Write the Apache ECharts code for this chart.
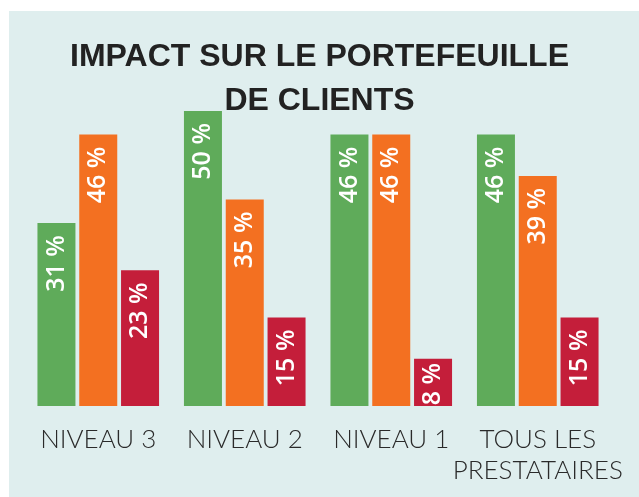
<!DOCTYPE html>
<html><head><meta charset="utf-8">
<script src="https://cdn.jsdelivr.net/npm/echarts@6/dist/echarts.min.js"></script>
<style>
html,body{margin:0;padding:0;background:#ffffff;}
#panel{position:absolute;left:9px;top:11px;width:630px;height:486px;background:#dfeeee;}
#chart{position:absolute;left:0;top:0;width:639px;height:497px;}
</style></head>
<body><div id="panel"></div><div id="chart"></div>
<script>
const categories = ['NIVEAU 3', 'NIVEAU 2', 'NIVEAU 1', 'TOUS LES\nPRESTATAIRES'];
const seriesA = [31, 50, 46, 46];
const seriesB = [46, 35, 46, 39];
const seriesC = [23, 15, 8, 15];
const titleText = 'IMPACT SUR LE PORTEFEUILLE\nDE CLIENTS';

const colors = ['#5fab5a', '#f37021', '#c41e3a'];
const chart = echarts.init(document.getElementById('chart'), null, {renderer: 'canvas'});
function labelFor(v) {
  return {
    show: true, position: 'insideTop', rotate: 90, align: 'right', verticalAlign: 'middle',
    distance: v < 10 ? 4 : 12, color: '#ffffff', fontFamily: 'Open Sans', fontWeight: 600, fontSize: 25,
    formatter: p => p.value + ' %'
  };
}
function mk(data, c) {
  return {
    type: 'bar', barWidth: 38, barGap: '10%', itemStyle: { color: c },
    data: data.map(v => ({ value: v, label: labelFor(v) }))
  };
}
chart.setOption({
  backgroundColor: 'transparent',
  animation: false,
  title: {
    text: titleText, left: 'center', top: 30,
    textStyle: { fontFamily: 'Liberation Sans', fontWeight: 'bold', fontSize: 32, lineHeight: 44, color: '#222222' }
  },
  grid: { left: 25, right: 28, top: 111, bottom: 91 },
  xAxis: {
    type: 'category', data: categories,
    axisLine: { show: false }, axisTick: { show: false },
    axisLabel: { margin: 18, fontFamily: 'Lato', fontWeight: 300, fontSize: 26, lineHeight: 31, color: '#2a2a2a', interval: 0, verticalAlign: 'top' }
  },
  yAxis: { type: 'value', min: 0, max: 50, show: false, splitLine: { show: false } },
  series: [mk(seriesA, colors[0]), mk(seriesB, colors[1]), mk(seriesC, colors[2])]
});
</script></body></html>
